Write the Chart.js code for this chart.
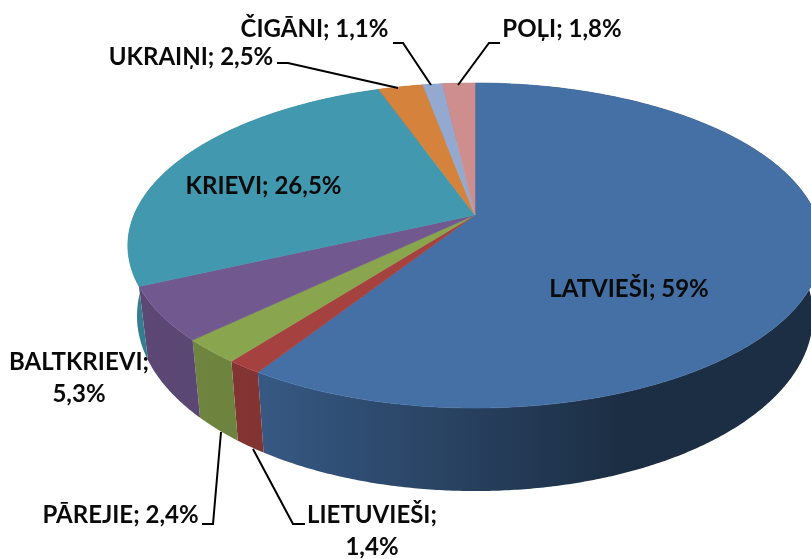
<!DOCTYPE html>
<html><head><meta charset="utf-8">
<style>html,body{margin:0;padding:0;background:#fff;overflow:hidden}canvas{display:block}</style>
<script src="https://cdn.jsdelivr.net/npm/chart.js@4"></script>
</head><body><canvas id="c" width="811" height="559"></canvas>
<script>
const categories = ["LATVIEŠI","LIETUVIEŠI","PĀREJIE","BALTKRIEVI","KRIEVI","UKRAIŅI","ČIGĀNI","POĻI"];
const shares = [59, 1.4, 2.4, 5.3, 26.5, 2.5, 1.1, 1.8];
const shareLabels = ["59%","1,4%","2,4%","5,3%","26,5%","2,5%","1,1%","1,8%"];
const colors = ["#4470a5","#a5423f","#89a54e","#71588f","#4198af","#d5823c","#93a9cf","#ce8e8e"];

// Perspective of the disc: top rim and bottom rim
const topRim = {cx:475, cy:215, a:341, b:156.8, k:0.1877};
const bottomRim = {cx:475, cy:283, a:332, b:169, k:0.1877};
const shadeStops = [[128,0.82],[265,0.79],[620,0.41],[822,0.41]];

const textLayout = [
 {lines:["LATVIEŠI; 59%"], x:629, y:289},
 {lines:["LIETUVIEŠI;","1,4%"], x:372, y:515},
 {lines:["PĀREJIE; 2,4%"], x:120.5, y:515},
 {lines:["BALTKRIEVI;","5,3%"], x:79, y:362},
 {lines:["KRIEVI; 26,5%"], x:263.5, y:186},
 {lines:["UKRAIŅI; 2,5%"], x:191, y:57},
 {lines:["ČIGĀNI; 1,1%"], x:314.5, y:29},
 {lines:["POĻI; 1,8%"], x:562, y:29}
];
const leaders = [
 null,
 [[305,524],[293,524],[253,449]],
 [[202,524],[213,524],[221,432]],
 null,
 null,
 [[277,63],[288,63],[398,88]],
 [[393,43],[403,43],[431,85]],
 [[500,43],[489,43],[458,85]]
];

function project(r, ang){
  const x=Math.cos(ang), y=Math.sin(ang), d=1-r.k*y;
  return [r.cx+r.a*x/d, r.cy+r.b*y/d];
}
function rimPoints(r,s,e){
  const n=Math.max(2,Math.ceil((e-s)/0.008)), p=[];
  for(let i=0;i<=n;i++) p.push(project(r,s+(e-s)*i/n));
  return p;
}
function shade(hex,f){
  const n=parseInt(hex.slice(1),16);
  return `rgb(${Math.round((n>>16&255)*f)},${Math.round((n>>8&255)*f)},${Math.round((n&255)*f)})`;
}
const disc3d = {
  id:'disc3d',
  beforeDatasetDraw(chart,args){
    const ctx=chart.ctx, arcs=chart.getDatasetMeta(args.index).data;
    // side wall
    arcs.forEach((arc,i)=>{
      const up=rimPoints(topRim,arc.startAngle,arc.endAngle);
      const lo=rimPoints(bottomRim,arc.startAngle,arc.endAngle).reverse();
      const g=ctx.createLinearGradient(128,0,822,0);
      shadeStops.forEach(([x,f])=>g.addColorStop((x-128)/694,shade(colors[i],f)));
      ctx.beginPath();
      up.concat(lo).forEach((p,j)=>j?ctx.lineTo(p[0],p[1]):ctx.moveTo(p[0],p[1]));
      ctx.closePath();
      ctx.fillStyle=g; ctx.fill();
    });
    // top face
    arcs.forEach((arc,i)=>{
      ctx.beginPath();
      ctx.moveTo(topRim.cx,topRim.cy);
      rimPoints(topRim,arc.startAngle,arc.endAngle).forEach(p=>ctx.lineTo(p[0],p[1]));
      ctx.closePath();
      ctx.fillStyle=colors[i]; ctx.fill();
      ctx.strokeStyle=colors[i]; ctx.lineWidth=0.6; ctx.stroke();
    });
    return false;
  },
  afterDatasetsDraw(chart){
    const ctx=chart.ctx;
    ctx.save();
    ctx.strokeStyle='#000'; ctx.lineWidth=2; ctx.lineJoin='miter';
    leaders.forEach(l=>{
      if(!l) return;
      ctx.beginPath();
      l.forEach((p,j)=>j?ctx.lineTo(p[0],p[1]):ctx.moveTo(p[0],p[1]));
      ctx.stroke();
    });
    ctx.fillStyle='#0a0a0a'; ctx.font='bold 24px Lato'; ctx.textAlign='center'; ctx.textBaseline='middle';
    textLayout.forEach(t=>t.lines.forEach((s,j)=>ctx.fillText(s,t.x,t.y+j*32)));
    ctx.restore();
  }
};
new Chart(document.getElementById('c'),{
  type:'pie',
  data:{labels:categories.map((c,i)=>c+"; "+shareLabels[i]),datasets:[{data:shares,backgroundColor:colors,borderWidth:0}]},
  options:{responsive:false,animation:false,rotation:0,
    plugins:{legend:{display:false},tooltip:{enabled:false},title:{display:false}}},
  plugins:[disc3d]
});
</script></body></html>
